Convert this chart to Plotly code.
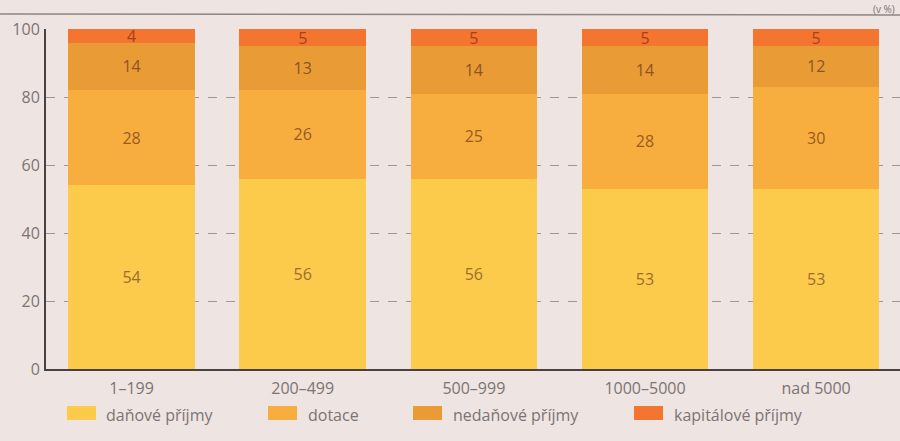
import plotly.graph_objects as go

categories = ["1–199", "200–499", "500–999", "1000–5000", "nad 5000"]
series_names = ["daňové příjmy", "dotace", "nedaňové příjmy", "kapitálové příjmy"]
danove = [54, 56, 56, 53, 53]
dotace = [28, 26, 25, 28, 30]
nedanove = [14, 13, 14, 14, 12]
kapitalove = [4, 5, 5, 5, 5]
y_ticks = [0, 20, 40, 60, 80, 100]

colors = ["#fccb4c", "#f8ae3e", "#e99b36", "#f4752f"]
text_colors = ["#9c6e2c", "#985a22", "#8e5322", "#a8401a"]
values = [danove, dotace, nedanove, kapitalove]

W, H = 900, 441
L, R, T, B = 46, 0, 29, 72
pw, ph = W - L - R, H - T - B


def px(x):
    return (x - L) / pw


def py(y):
    return (H - B - y) / ph


FONT = "Open Sans"
fig = go.Figure()
for name, vals, col, tcol in zip(series_names, values, colors, text_colors):
    fig.add_trace(go.Bar(
        x=categories, y=vals, name=name, marker=dict(color=col, line=dict(width=0)),
        text=[str(v) for v in vals], textposition="inside", insidetextanchor="middle",
        textangle=0, constraintext="none", textfont=dict(size=16, color=tcol, family=FONT),
        showlegend=False,
    ))

fig.update_layout(
    width=W, height=H, barmode="stack", bargap=0.26,
    margin=dict(l=L, r=R, t=T, b=B),
    paper_bgcolor="#eee4e2", plot_bgcolor="#eee4e2",
    font=dict(family=FONT, size=16, color="#7c7472"),
    xaxis=dict(range=[-0.5, 4.49], showline=True, linecolor="#4a4242", linewidth=2,
               ticks="outside", ticklen=4, tickcolor="rgba(0,0,0,0)",
               tickfont=dict(size=16, color="#7c7472"), showgrid=False, fixedrange=True),
    yaxis=dict(range=[0, 100], tickvals=y_ticks, showline=True, linecolor="#4a4242", linewidth=2,
               ticks="outside", ticklen=1, tickcolor="rgba(0,0,0,0)",
               showgrid=True, gridcolor="#9e9696", griddash="dash", gridwidth=1,
               zeroline=False, tickfont=dict(size=16, color="#7c7472")),
)

# top rule line
fig.add_shape(type="line", xref="paper", yref="paper", x0=px(0), x1=px(900), y0=py(14), y1=py(15),
              line=dict(color="#8c8686", width=1.5))
fig.add_annotation(xref="paper", yref="paper", x=px(897), y=py(0), xanchor="right", yanchor="top",
                   text="(v %)", showarrow=False, font=dict(size=10, color="#7c7472"))

# manual legend with wide swatches
leg_swatch_x = [67, 268, 413, 634]
leg_text_x = [104, 306, 451, 672]
for name, col, sx, tx in zip(series_names, colors, leg_swatch_x, leg_text_x):
    fig.add_shape(type="rect", xref="paper", yref="paper", x0=px(sx), x1=px(sx + 29),
                  y0=py(420), y1=py(406), fillcolor=col, line=dict(width=0))
    fig.add_annotation(xref="paper", yref="paper", x=px(tx), y=py(415), xanchor="left", yanchor="middle",
                       text=name, showarrow=False, font=dict(size=16, color="#7c7472"))

fig.write_html("out.html", config={"displayModeBar": False},
               post_script="document.body.style.margin='0';document.body.style.padding='0';")
